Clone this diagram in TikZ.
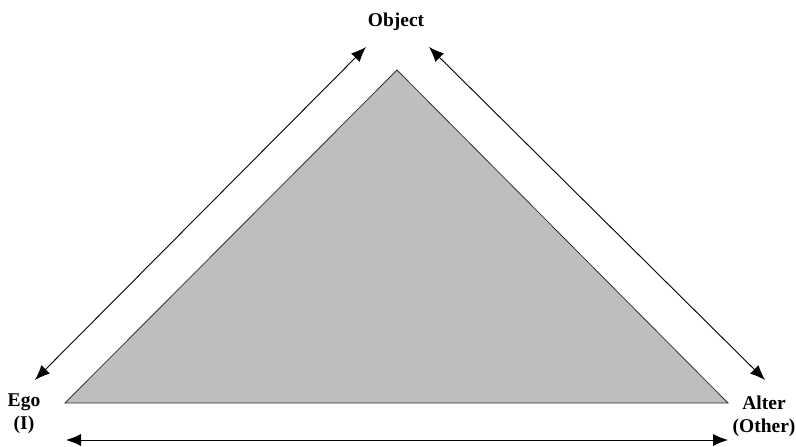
\documentclass[tikz,border=0pt]{standalone}
\usepackage{fontspec}
\setmainfont{Liberation Serif}
\usetikzlibrary{arrows.meta}
\definecolor{trifill}{RGB}{190,190,192}

\begin{document}
\begin{tikzpicture}[x=1pt, y=-1pt,
				>={Latex[length=15pt,width=12pt]},   % arrow tips
				label/.style={font=\fontsize{19.5}{23}\selectfont\bfseries, align=center, inner sep=0pt},
				relation/.style={<->, line width=0.9pt}]
				% picture frame
				\useasboundingbox (0,0) rectangle (796,447);
				% corners of the triangle
				\coordinate (apex) at (397,70);
				\coordinate (ego) at (65,403);
				\coordinate (alter) at (728,403);
				\fill[trifill, draw=black!80, line width=0.8pt] (apex) -- (ego) -- (alter) -- cycle;
				% labels
				\node[label] (object) at (396,22) {Object};
				\node[label] (egolab) at (24,414) {Ego\\(I)};
				\node[label] (alterlab) at (764,416) {Alter\\(Other)};
				% arrow ends
				\coordinate (egoU) at (35,380);
				\coordinate (objL) at (366,47);
				\coordinate (objR) at (429,47);
				\coordinate (alterU) at (765,380);
				\coordinate (egoB) at (66,440);
				\coordinate (alterB) at (728,440);
				% relations
				\draw[relation] (egoU) -- (objL);
				\draw[relation] (objR) -- (alterU);
				\draw[relation] (egoB) -- (alterB);
\end{tikzpicture}
\end{document}
